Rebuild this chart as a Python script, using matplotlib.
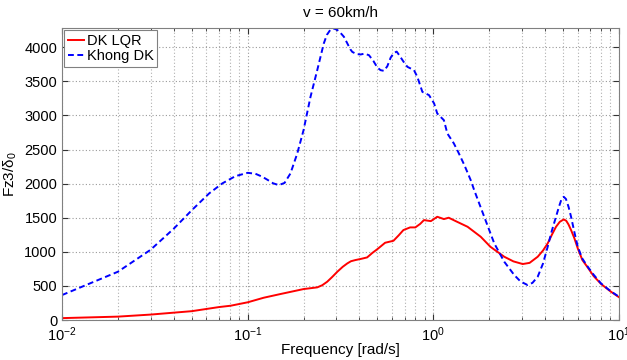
import numpy as np
import matplotlib
matplotlib.use("Agg")
import matplotlib.pyplot as plt
from matplotlib.ticker import LogLocator, NullFormatter

# frequency response, uncontrolled (Khong DK)
f_kdk = [0.01, 0.02, 0.03, 0.04, 0.05, 0.062, 0.073, 0.086, 0.1, 0.11,
         0.12, 0.128, 0.137, 0.147, 0.158, 0.17, 0.185, 0.2, 0.218, 0.237,
         0.257, 0.267, 0.28, 0.291, 0.303, 0.315, 0.33, 0.345, 0.357, 0.366,
         0.385, 0.406, 0.425, 0.45, 0.475, 0.5, 0.52, 0.542, 0.565, 0.59,
         0.614, 0.635, 0.655, 0.69, 0.725, 0.787, 0.82, 0.873, 0.948, 1.01,
         1.05, 1.14, 1.19, 1.29, 1.36, 1.47, 1.59, 1.66, 1.88, 2.13,
         2.41, 2.73, 2.95, 3.22, 3.42, 3.65, 3.9, 4.13, 4.35, 4.58,
         4.75, 4.9, 5.04, 5.18, 5.35, 5.52, 5.75, 6.0, 6.35, 6.79,
         7.3, 8.0, 9.0, 10.0]
v_kdk = [366, 708, 1030, 1340, 1610, 1856, 2003, 2110, 2158, 2145,
         2100, 2055, 2005, 1978, 2010, 2149, 2442, 2784, 3272, 3663,
         4054, 4180, 4262, 4274, 4255, 4215, 4152, 4050, 3970, 3931,
         3900, 3893, 3905, 3883, 3800, 3700, 3663, 3653, 3720, 3850,
         3917, 3935, 3883, 3790, 3712, 3663, 3565, 3345, 3297, 3175,
         3028, 2930, 2735, 2589, 2466, 2271, 2051, 1905, 1514, 1123,
         855, 659, 565, 513, 545, 635, 830, 1074, 1310, 1514,
         1660, 1770, 1807, 1775, 1660, 1514, 1290, 1074, 900, 781,
         665, 537, 425, 342]

# frequency response, LQR control (DK LQR)
f_lqr = [0.01, 0.02, 0.03, 0.05, 0.07, 0.081, 0.1, 0.122, 0.15, 0.2,
         0.237, 0.252, 0.268, 0.285, 0.304, 0.325, 0.344, 0.36, 0.38, 0.41,
         0.44, 0.47, 0.5, 0.55, 0.61, 0.65, 0.69, 0.75, 0.8, 0.85,
         0.89, 0.97, 1.05, 1.1, 1.14, 1.21, 1.32, 1.53, 1.8, 2.03,
         2.41, 2.7, 3.03, 3.3, 3.65, 3.9, 4.13, 4.35, 4.58, 4.8,
         5.04, 5.2, 5.35, 5.52, 5.75, 6.0, 6.35, 6.79, 7.3, 8.0,
         9.0, 10.0]
v_lqr = [28, 50, 80, 130, 190, 210, 260, 327, 381, 454,
         479, 510, 561, 630, 708, 780, 830, 862, 879, 898,
         918, 985, 1040, 1133, 1162, 1240, 1319, 1358, 1358, 1410,
         1465, 1450, 1514, 1495, 1480, 1500, 1450, 1367, 1221, 1074,
         928, 860, 821, 838, 928, 1020, 1123, 1250, 1367, 1440,
         1475, 1455, 1400, 1319, 1200, 1050, 880, 770, 645, 530,
         420, 335]

plt.rcParams['font.family'] = ['Liberation Sans', 'DejaVu Sans']
plt.rcParams['mathtext.fontset'] = 'custom'
plt.rcParams['mathtext.rm'] = 'Liberation Sans'
plt.rcParams['mathtext.it'] = 'Liberation Sans'

fig = plt.figure(figsize=(6.27, 3.6), dpi=100)
ax = fig.add_axes([0.0989, 0.111, 0.8883, 0.811])

ax.semilogx(f_lqr, v_lqr, color='red', lw=1.4, label='DK LQR')
ax.semilogx(f_kdk, v_kdk, color='blue', lw=1.4, ls=(0, (3.0, 1.8)), label='Khong DK')

ax.set_xlim(0.01, 10)
ax.set_ylim(0, 4280)
ax.set_yticks(np.arange(0, 4001, 500))
ax.xaxis.set_major_locator(LogLocator(base=10, numticks=10))
ax.xaxis.set_minor_locator(LogLocator(base=10, subs=np.arange(2, 10), numticks=10))
ax.xaxis.set_minor_formatter(NullFormatter())

ax.grid(True, which='major', color='#9a9a9a', ls=(0, (1, 2)), lw=0.8)
ax.grid(True, which='minor', axis='x', color='#b0b0b0', ls=(0, (1, 2)), lw=0.8)
ax.tick_params(which='both', direction='in', labelsize=10.5, colors='#333333',
               top=True, right=True)
ax.tick_params(which='major', length=4)
ax.tick_params(which='minor', length=2)
ax.tick_params(axis='x', pad=4)
for lab in ax.get_xticklabels() + ax.get_yticklabels():
    lab.set_color('black')
for s in ax.spines.values():
    s.set_color('#808080')

ax.set_title('v = 60km/h', fontsize=11, pad=8)
ax.set_xlabel('Frequency [rad/s]', fontsize=11, labelpad=-1)
ax.set_ylabel(r'Fz3/$\delta_0$', fontsize=11, labelpad=4)

leg = ax.legend(loc='upper left', fontsize=10.5, handlelength=1.1, handletextpad=0.2,
                borderpad=0.25, labelspacing=0.1, borderaxespad=0.15,
                fancybox=False, framealpha=1)
leg.get_frame().set_edgecolor('#808080')
leg.get_frame().set_linewidth(0.8)

fig.savefig('out.png', dpi=100)
